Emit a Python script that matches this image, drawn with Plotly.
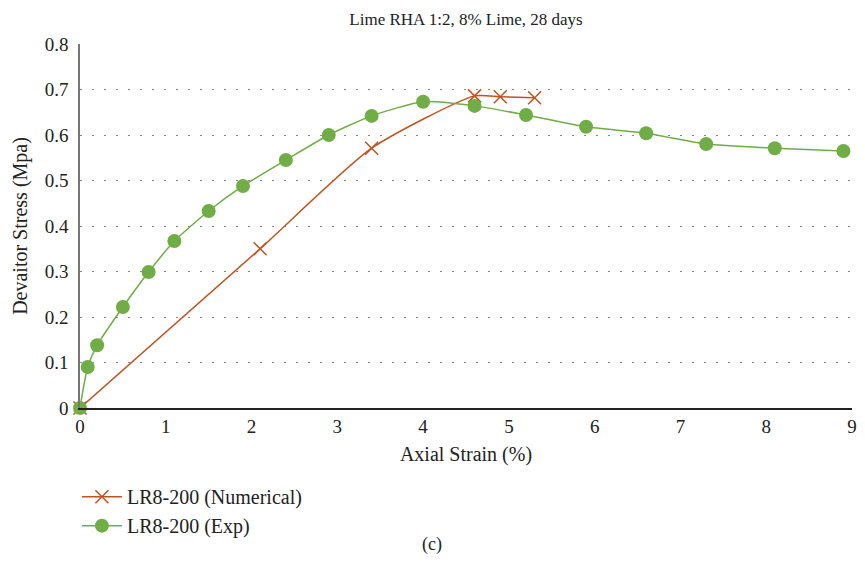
import plotly.graph_objects as go

# Data
num_x = [0, 2.1, 3.4, 4.6, 4.9, 5.3]
num_y = [0, 0.35, 0.571, 0.686, 0.684, 0.682]

exp_x = [0, 0.09, 0.2, 0.5, 0.8, 1.1, 1.5, 1.9, 2.4, 2.9, 3.4, 4.0, 4.6, 5.2, 5.9, 6.6, 7.3, 8.1, 8.9]
exp_y = [0, 0.09, 0.138, 0.222, 0.299, 0.367, 0.433, 0.488, 0.545, 0.600, 0.642, 0.673, 0.664, 0.644,
         0.618, 0.604, 0.580, 0.571, 0.565]

x_ticks = list(range(0, 10))
y_ticks = [0, 0.1, 0.2, 0.3, 0.4, 0.5, 0.6, 0.7, 0.8]
y_tick_text = ["0", "0.1", "0.2", "0.3", "0.4", "0.5", "0.6", "0.7", "0.8"]

FONT = "Liberation Serif"
RED = "#C0531F"
GREEN = "#70AD47"

fig = go.Figure()
fig.add_trace(go.Scatter(
    x=num_x, y=num_y, name="LR8-200 (Numerical)", mode="lines+markers",
    line=dict(color=RED, width=1.5, shape="spline", smoothing=0.6),
    marker=dict(symbol="x-thin", size=13, line=dict(color=RED, width=1.5), color=RED),
    cliponaxis=False,
))
fig.add_trace(go.Scatter(
    x=exp_x, y=exp_y, name="LR8-200 (Exp)", mode="lines+markers",
    line=dict(color=GREEN, width=1.5, shape="spline", smoothing=0.6),
    marker=dict(symbol="circle", size=14, color=GREEN),
    cliponaxis=False,
))

fig.update_layout(
    width=865, height=578,
    margin=dict(l=80, r=13, t=44, b=170),
    paper_bgcolor="white", plot_bgcolor="white",
    font=dict(family=FONT, size=19, color="#222222"),
    title=dict(text="Lime RHA 1:2, 8% Lime, 28 days", x=0.5, xref="paper", xanchor="center",
               y=0.978, yref="container", yanchor="top", font=dict(size=17, family=FONT)),
    showlegend=True,
    legend=dict(x=-0.004, xanchor="left", y=-0.19, yanchor="top", orientation="v",
                font=dict(size=20, family=FONT), bgcolor="rgba(0,0,0,0)",
                tracegroupgap=0, itemwidth=40),
    annotations=[dict(text="(c)", x=0.456, xref="paper", y=-0.41, yref="paper",
                      showarrow=False, font=dict(size=18, family=FONT))],
)
fig.update_xaxes(
    range=[0, 9], tickvals=x_ticks, showgrid=False, zeroline=False, automargin=False,
    showline=True, linecolor="#222222", linewidth=1.5, ticks="",
    tickfont=dict(size=19),
    title=dict(text="Axial Strain (%)", font=dict(size=20, family=FONT), standoff=11),
)
fig.update_yaxes(
    range=[0, 0.8], tickvals=y_ticks, ticktext=y_tick_text, showgrid=True, automargin=False,
    gridcolor="#888888", griddash="2px,10px", gridwidth=1.2, zeroline=False,
    showline=True, linecolor="#777777", linewidth=1.5, ticks="",
    tickfont=dict(size=19), ticklabelstandoff=6,
    title=dict(text="Devaitor Stress (Mpa)", font=dict(size=20, family=FONT), standoff=12),
)

fig.write_html("out.html")
